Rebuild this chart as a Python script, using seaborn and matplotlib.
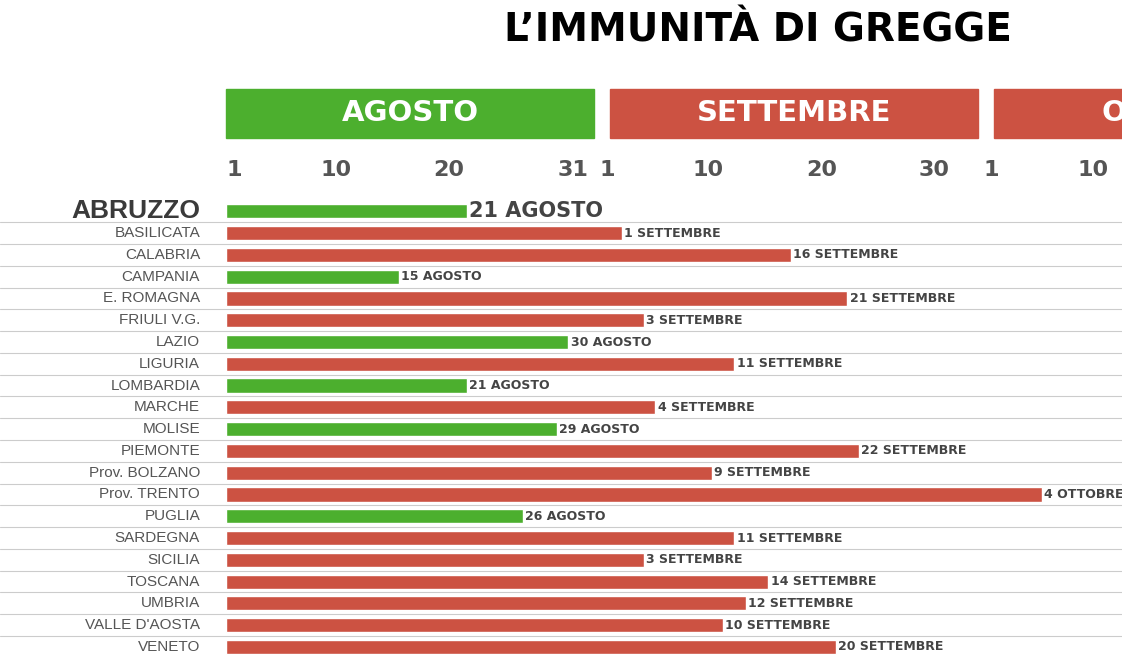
import matplotlib
matplotlib.use("Agg")
import matplotlib.pyplot as plt
import seaborn as sns
import pandas as pd
from matplotlib.patches import Rectangle
import matplotlib.transforms as mtrans

regions = ["ABRUZZO", "BASILICATA", "CALABRIA", "CAMPANIA", "E. ROMAGNA", "FRIULI V.G.", "LAZIO",
           "LIGURIA", "LOMBARDIA", "MARCHE", "MOLISE", "PIEMONTE", "Prov. BOLZANO", "Prov. TRENTO",
           "PUGLIA", "SARDEGNA", "SICILIA", "TOSCANA", "UMBRIA", "VALLE D'AOSTA", "VENETO"]
months = ["AGOSTO", "SETTEMBRE", "SETTEMBRE", "AGOSTO", "SETTEMBRE", "SETTEMBRE", "AGOSTO",
          "SETTEMBRE", "AGOSTO", "SETTEMBRE", "AGOSTO", "SETTEMBRE", "SETTEMBRE", "OTTOBRE",
          "AGOSTO", "SETTEMBRE", "SETTEMBRE", "SETTEMBRE", "SETTEMBRE", "SETTEMBRE", "SETTEMBRE"]
days = [21, 1, 16, 15, 21, 3, 30, 11, 21, 4, 29, 22, 9, 4, 26, 11, 3, 14, 12, 10, 20]
month_names = ["AGOSTO", "SETTEMBRE", "OTTOBRE"]
month_ticks = [[1, 10, 20, 31], [1, 10, 20, 30], [1, 10]]

offset = {"AGOSTO": 0, "SETTEMBRE": 33, "OTTOBRE": 67}
bar_shift = {"AGOSTO": 0.3, "SETTEMBRE": 1.0, "OTTOBRE": 1.2}
GREEN = "#4caf2e"
RED = "#cc5242"
colors = {"AGOSTO": GREEN, "SETTEMBRE": RED, "OTTOBRE": RED}

df = pd.DataFrame({"region": regions, "month": months, "day": days})
df["pos"] = [d + offset[m] + bar_shift[m] for d, m in zip(df.day, df.month)]

sns.set_theme(style="white")
plt.rcParams["font.family"] = ["DejaVu Sans"]

W, H = 1122, 670
fig = plt.figure(figsize=(W / 100, H / 100), dpi=100)
ax = fig.add_axes([226 / W, 1 - 660 / H, (W - 226) / W, 465 / H])
sns.barplot(data=df, x="pos", y="region", hue="month", palette=colors, orient="h",
            dodge=False, legend=False, width=0.65, saturation=1, ax=ax)
for p in ax.patches:
    p.set_x(0.3)
ax.set_xlim(0.29, 79.6)
ax.set_ylim(20.6, -0.75)
ax.axis("off")

trans = mtrans.blended_transform_factory(ax.transAxes, ax.transData)
for i, r in df.iterrows():
    big = i == 0
    ax.text(-0.029, i, r.region, transform=trans, ha="right", va="center",
            fontsize=19 if big else 11, fontweight="bold" if big else "normal",
            color="#3a3a3a" if big else "#555555",
            family=["Liberation Sans", "DejaVu Sans"])
    ax.text(r.pos + 0.5, i, f"{r.day} {r.month}", ha="left", va="center",
            fontsize=15 if big else 9, fontweight="bold", color="#444444", clip_on=False)
    if i < len(df) - 1:
        ax.axhline(i + 0.5, xmin=-0.252, xmax=1, color="#cccccc", lw=0.8, clip_on=False)

for k, (mn, ticks) in enumerate(zip(month_names, month_ticks)):
    x0 = 0.29 + k * 34
    ax.add_patch(Rectangle((x0, -3.37), 32.6, -2.25, color=colors[mn], clip_on=False))
    ax.text(x0 + 16.3, -4.5, mn, ha="center", va="center", color="white",
            fontsize=21, fontweight="bold", clip_on=False)
    for t in ticks:
        ax.text(t + offset[mn], -1.9, str(t), ha="center", va="center",
                fontsize=16, fontweight="bold", color="#555555", clip_on=False)

fig.text(758 / W, 1 - 30 / H, "L\u2019IMMUNITÀ DI GREGGE", ha="center", va="center",
         fontsize=28, fontweight="bold", color="black")
fig.savefig("out.png", dpi=100, facecolor="white")
